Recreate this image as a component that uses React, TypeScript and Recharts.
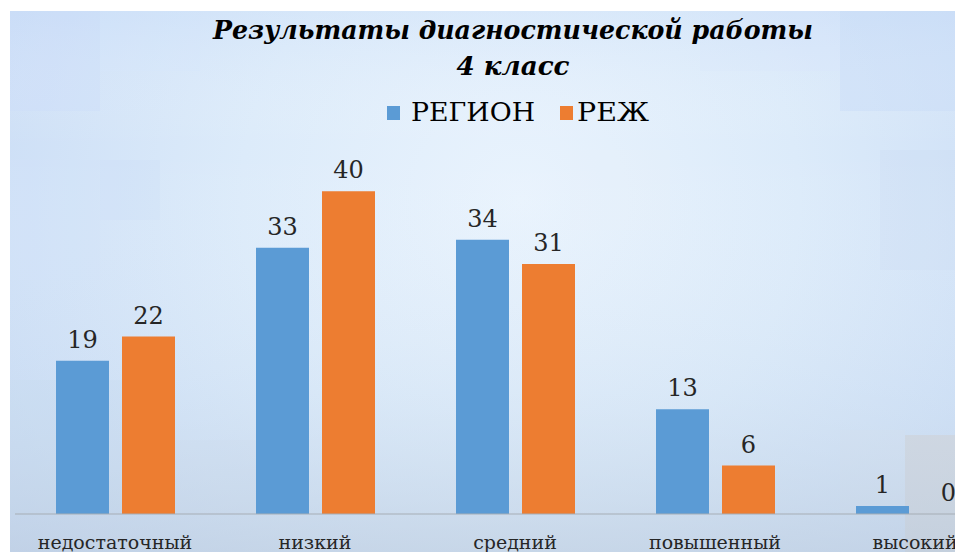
import React from 'react';
import { BarChart, Bar, XAxis, YAxis, LabelList } from 'recharts';

const categories = ['недостаточный', 'низкий', 'средний', 'повышенный', 'высокий'];
const regionValues = [19, 33, 34, 13, 1];
const rezhValues = [22, 40, 31, 6, 0];
const seriesNames = ['РЕГИОН', 'РЕЖ'];
const titleLines = ['Результаты диагностической работы', '4 класс'];

const BLUE = '#5B9BD5';
const ORANGE = '#ED7D31';
const SERIF = '"DejaVu Serif", "Liberation Serif", serif';

const data = categories.map((c, i) => ({ name: c, region: regionValues[i], rezh: rezhValues[i] }));

const Tick = (props: any) => {
  const { x, y, payload } = props;
  return (
    <text x={x} y={y + 27} textAnchor="middle" fontFamily={SERIF} fontSize={19} fill="#262626">
      {payload.value}
    </text>
  );
};

const mosaic = [
  { x: 10, y: 11, w: 90, h: 100, c: '#c9dcf9', o: 0.45 },
  { x: 100, y: 11, w: 100, h: 60, c: '#d3e4fb', o: 0.35 },
  { x: 840, y: 11, w: 115, h: 100, c: '#c6daf6', o: 0.45 },
  { x: 700, y: 11, w: 140, h: 60, c: '#d6e6fb', o: 0.3 },
  { x: 10, y: 160, w: 90, h: 120, c: '#d2e3f8', o: 0.35 },
  { x: 100, y: 160, w: 60, h: 60, c: '#c8dcf6', o: 0.25 },
  { x: 570, y: 150, w: 100, h: 80, c: '#e6f0fb', o: 0.4 },
  { x: 880, y: 150, w: 75, h: 120, c: '#cadcf2', o: 0.3 },
  { x: 10, y: 380, w: 150, h: 134, c: '#c9dbf1', o: 0.4 },
  { x: 160, y: 440, w: 100, h: 74, c: '#cfdff0', o: 0.3 },
  { x: 905, y: 435, w: 50, h: 117, c: '#d2d6dc', o: 0.9 },
  { x: 840, y: 430, w: 65, h: 84, c: '#d7e4f1', o: 0.5 },
];

export default function App() {
  return (
    <div style={{ position: 'fixed', left: 0, top: 0, width: 955, height: 552, overflow: 'hidden', background: '#ffffff' }}>
      <svg width={955} height={552} style={{ position: 'absolute', left: 0, top: 0 }}>
        <defs>
          <radialGradient id="bgRad" cx="520" cy="200" r="620" gradientUnits="userSpaceOnUse">
            <stop offset="0" stopColor="#e9f3fd" />
            <stop offset="0.45" stopColor="#dcebfa" />
            <stop offset="1" stopColor="#c8dbf5" />
          </radialGradient>
          <linearGradient id="bgLin" x1="0" y1="0" x2="0" y2="1">
            <stop offset="0" stopColor="#c9ddf8" stopOpacity="0.3" />
            <stop offset="0.25" stopColor="#ffffff" stopOpacity="0" />
            <stop offset="0.7" stopColor="#c8d9ec" stopOpacity="0.2" />
            <stop offset="1" stopColor="#bccbdd" stopOpacity="0.6" />
          </linearGradient>
        </defs>
        <rect x={10} y={11} width={945} height={541} fill="url(#bgRad)" />
        {mosaic.map((m, i) => (
          <rect key={i} x={m.x} y={m.y} width={m.w} height={m.h} fill={m.c} opacity={m.o} />
        ))}
        <rect x={10} y={11} width={945} height={541} fill="url(#bgLin)" />
      </svg>
      <div style={{ position: 'absolute', left: 0, top: 0 }}>
        <BarChart
          width={1030}
          height={600}
          data={data}
          margin={{ top: 151, right: 15, bottom: 46, left: 15 }}
          barGap={13}
          barSize={53}
        >
          <XAxis
            dataKey="name"
            height={40}
            axisLine={{ stroke: '#a6adb5', strokeWidth: 1 }}
            tickLine={false}
            tick={<Tick />}
            interval={0}
          />
          <YAxis hide domain={[0, 45]} />
          <Bar dataKey="region" name={seriesNames[0]} fill={BLUE} isAnimationActive={false} minPointSize={0.01}>
            <LabelList dataKey="region" position="top" offset={13} fontFamily={SERIF} fontSize={24} fill="#262626" />
          </Bar>
          <Bar dataKey="rezh" name={seriesNames[1]} fill={ORANGE} isAnimationActive={false} minPointSize={0.01}>
            <LabelList dataKey="rezh" position="top" offset={13} fontFamily={SERIF} fontSize={24} fill="#262626" />
          </Bar>
        </BarChart>
      </div>
      <svg width={955} height={140} style={{ position: 'absolute', left: 0, top: 0, pointerEvents: 'none' }}>
        <text x={513} y={39} textAnchor="middle" fontFamily={SERIF} fontWeight="bold" fontStyle="italic" fontSize={26} fill="#000" textLength={600} lengthAdjust="spacingAndGlyphs">
          {titleLines[0]}
        </text>
        <text x={513} y={75} textAnchor="middle" fontFamily={SERIF} fontWeight="bold" fontStyle="italic" fontSize={26} fill="#000" textLength={113} lengthAdjust="spacingAndGlyphs">
          {titleLines[1]}
        </text>
        <rect x={387} y={106} width={13} height={14} fill={BLUE} />
        <text x={411} y={121} fontFamily={SERIF} fontSize={26} fill="#000" textLength={124} lengthAdjust="spacingAndGlyphs">
          {seriesNames[0]}
        </text>
        <rect x={560} y={106} width={13} height={14} fill={ORANGE} />
        <text x={577} y={121} fontFamily={SERIF} fontSize={26} fill="#000" textLength={72} lengthAdjust="spacingAndGlyphs">
          {seriesNames[1]}
        </text>
      </svg>
    </div>
  );
}
